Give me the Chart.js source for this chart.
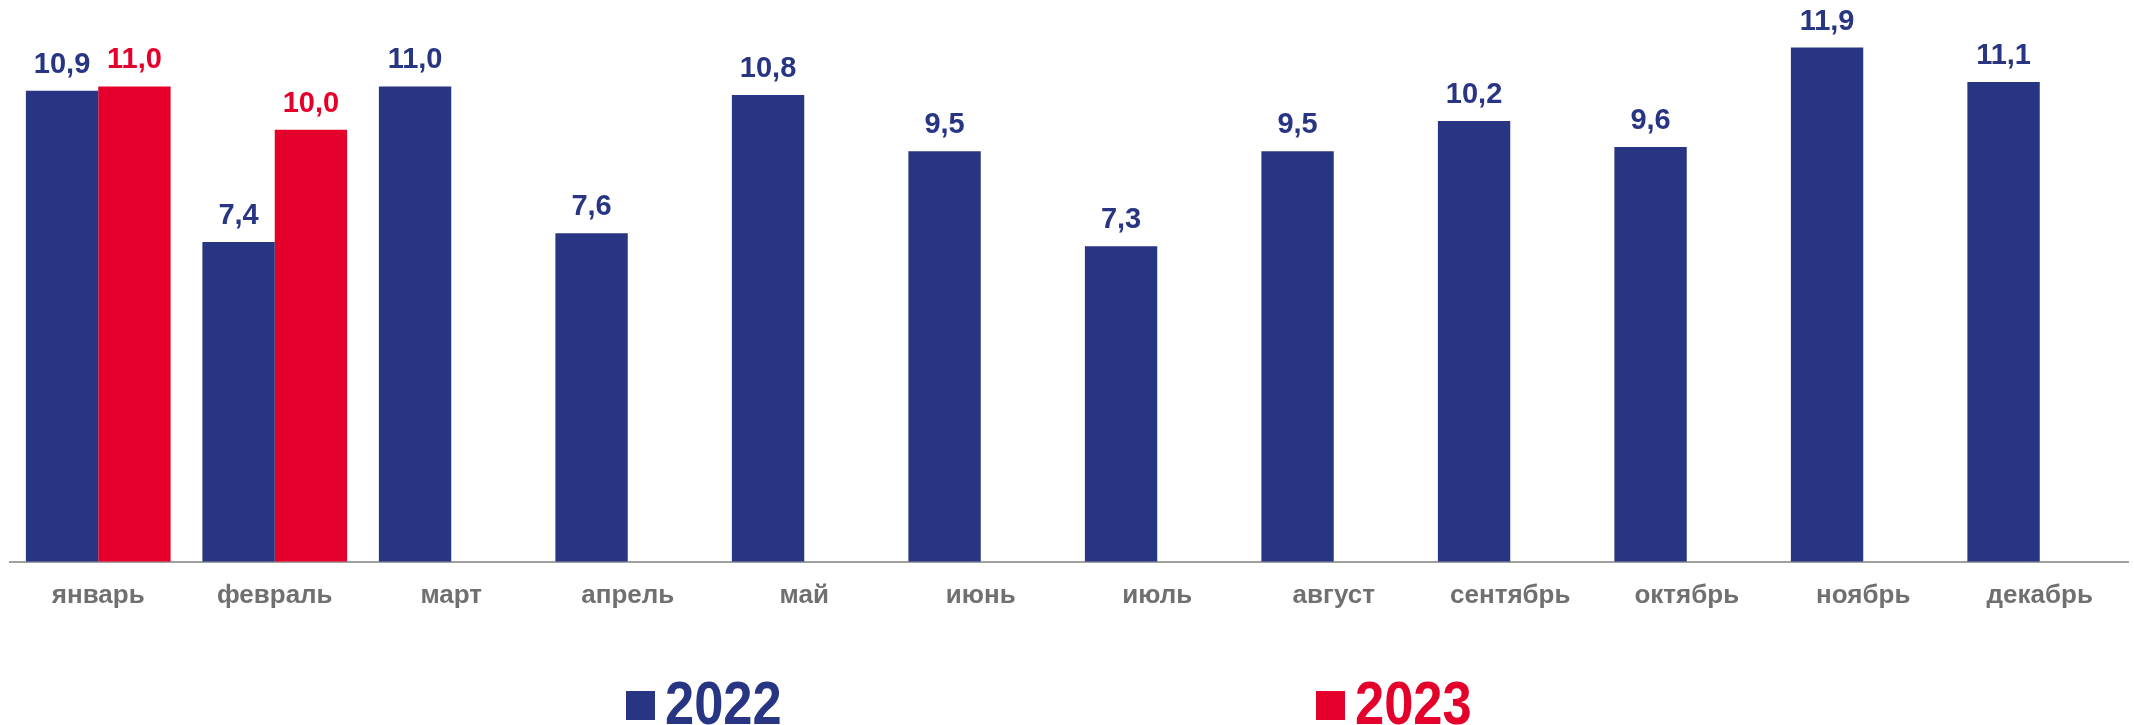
<!DOCTYPE html>
<html>
<head>
<meta charset="utf-8">
<script src="https://cdn.jsdelivr.net/npm/chart.js@4"></script>
<style>
  html, body { margin: 0; padding: 0; background: #fff; }
  #chart { display: block; }
</style>
</head>
<body>
<canvas id="chart" width="2134" height="725"></canvas>
<script>
// ─── Data ───
const months = ['январь', 'февраль', 'март', 'апрель', 'май', 'июнь', 'июль', 'август', 'сентябрь', 'октябрь', 'ноябрь', 'декабрь'];
const values2022 = [10.9, 7.4, 11.0, 7.6, 10.8, 9.5, 7.3, 9.5, 10.2, 9.6, 11.9, 11.1];
const values2023 = [11.0, 10.0, null, null, null, null, null, null, null, null, null, null];
const seriesNames = ['2022', '2023'];

const NAVY = '#283583';
const RED = '#e4002b';
const GREY = '#707070';

// ─── Value labels above bars ───
const barLabels = {
    id: 'barLabels',
    afterDatasetsDraw(chart) {
        const ctx = chart.ctx;
        ctx.save();
        ctx.font = "bold 29px 'Liberation Sans', Arial, sans-serif";
        ctx.textAlign = 'center';
        ctx.textBaseline = 'alphabetic';
        chart.data.datasets.forEach((ds, i) => {
            const meta = chart.getDatasetMeta(i);
            ctx.fillStyle = ds.backgroundColor;
            meta.data.forEach((bar, j) => {
                const v = ds.data[j];
                if (v == null) return;
                ctx.fillText(v.toFixed(1).replace('.', ','), bar.x, bar.y - 18);
            });
        });
        ctx.restore();
    }
};

// ─── Legend at the bottom (narrow bold type) ───
const bottomLegend = {
    id: 'bottomLegend',
    afterDraw(chart) {
        const ctx = chart.ctx;
        const starts = [626, 1316];
        ctx.save();
        ctx.font = "bold 61px 'Liberation Sans', Arial, sans-serif";
        ctx.textBaseline = 'alphabetic';
        ctx.textAlign = 'left';
        chart.data.datasets.forEach((ds, i) => {
            const x = starts[i];
            ctx.fillStyle = ds.backgroundColor;
            ctx.fillRect(x, 691, 29, 29);
            ctx.save();
            ctx.translate(x + 39, 724);
            ctx.scale(0.86, 1);
            ctx.fillText(ds.label, 0, 0);
            ctx.restore();
        });
        ctx.restore();
    }
};

new Chart(document.getElementById('chart'), {
    type: 'bar',
    data: {
        labels: months,
        datasets: [
            { label: seriesNames[0], data: values2022, backgroundColor: NAVY },
            { label: seriesNames[1], data: values2023, backgroundColor: RED }
        ]
    },
    options: {
        responsive: false,
        animation: false,
        devicePixelRatio: 1,
        layout: { padding: { left: 10, right: 6, top: 0, bottom: 96 } },
        categoryPercentage: 0.82,
        barPercentage: 1.0,
        plugins: {
            legend: { display: false },
            tooltip: { enabled: false }
        },
        scales: {
            x: {
                grid: { display: false, drawTicks: false },
                border: { display: true, color: '#a0a0a0', width: 2 },
                ticks: {
                    color: GREY,
                    padding: 18,
                    font: { family: "'Liberation Sans', Arial, sans-serif", size: 26, weight: 'bold' }
                }
            },
            y: {
                display: false,
                min: 0,
                max: 13
            }
        }
    },
    plugins: [barLabels, bottomLegend]
});
</script>
</body>
</html>
